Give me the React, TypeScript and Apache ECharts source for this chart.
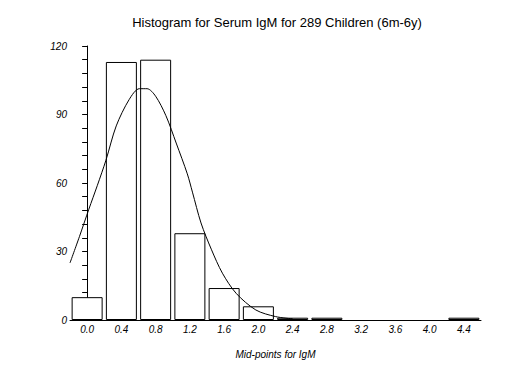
import React, { useEffect, useRef } from "react";
import * as echarts from "echarts";

const categories = ["0.0", "0.4", "0.8", "1.2", "1.6", "2.0", "2.4", "2.8", "3.2", "3.6", "4.0", "4.4"];
const counts = [10, 113, 114, 38, 14, 6, 1, 1, 0, 0, 0, 1];
const curveX = [-0.2, -0.09, 0.02, 0.12, 0.22, 0.34, 0.49, 0.61, 0.7, 0.8, 0.92, 1.04, 1.17, 1.23, 1.33, 1.45, 1.58, 1.74, 1.97, 2.2, 2.4];
const curveY = [25, 36.5, 48.5, 59, 70, 85, 96.5, 101.3, 101.3, 98, 89.5, 77.5, 64, 56, 42.5, 31, 20.5, 11.7, 4.4, 1.5, 0.5];
const yTicks = { min: 0, max: 120, interval: 30 };

const FONT = "'Liberation Sans', Arial, sans-serif";

export default function App() {
  const ref = useRef<HTMLDivElement>(null);
  useEffect(() => {
    if (!ref.current) return;
    document.body.style.margin = "0";
    const chart = echarts.init(ref.current, null, { renderer: "svg" });
    chart.setOption({
      animation: false,
      backgroundColor: "#ffffff",
      title: {
        text: "Histogram for Serum IgM for 289 Children (6m-6y)",
        left: 272,
        textAlign: "center",
        top: 11,
        textStyle: { fontFamily: FONT, fontSize: 13, fontWeight: "normal", color: "#000" },
      },
      grid: { left: 70, right: 36, top: 46, bottom: 45 },
      xAxis: [
        {
          type: "category",
          data: categories,
          axisLine: { lineStyle: { color: "#000", width: 1 } },
          axisTick: { show: false },
          axisLabel: { fontFamily: FONT, fontSize: 10, fontStyle: "italic", color: "#000", margin: 4 },
          name: "Mid-points for IgM",
          nameLocation: "middle",
          nameGap: 29,
          nameTextStyle: { fontFamily: FONT, fontSize: 10, fontStyle: "italic", color: "#000" },
        },
        {
          type: "value",
          min: -0.2,
          max: 4.6,
          show: false,
        },
      ],
      yAxis: {
        type: "value",
        min: yTicks.min,
        max: yTicks.max,
        interval: yTicks.interval,
        axisLine: { show: true, lineStyle: { color: "#000", width: 1 } },
        axisTick: { show: true, length: 5, lineStyle: { color: "#000" } },
        minorTick: { show: true, splitNumber: 5, length: 5, lineStyle: { color: "#000" } },
        splitLine: { show: false },
        axisLabel: { fontFamily: FONT, fontSize: 10, fontStyle: "italic", color: "#000", margin: 3 },
      },
      series: [
        {
          type: "bar",
          data: counts.map((v) => (v === 0 ? "-" : v)),
          xAxisIndex: 0,
          barWidth: 31,
          itemStyle: { color: "#ffffff", borderColor: "#000", borderWidth: 1 },
        },
        {
          type: "line",
          xAxisIndex: 1,
          data: curveX.map((x, i) => [x, curveY[i]]),
          smooth: 0.3,
          showSymbol: false,
          lineStyle: { color: "#000", width: 1 },
        },
      ],
    });
    return () => chart.dispose();
  }, []);
  return <div ref={ref} style={{ width: 517, height: 365 }} />;
}
